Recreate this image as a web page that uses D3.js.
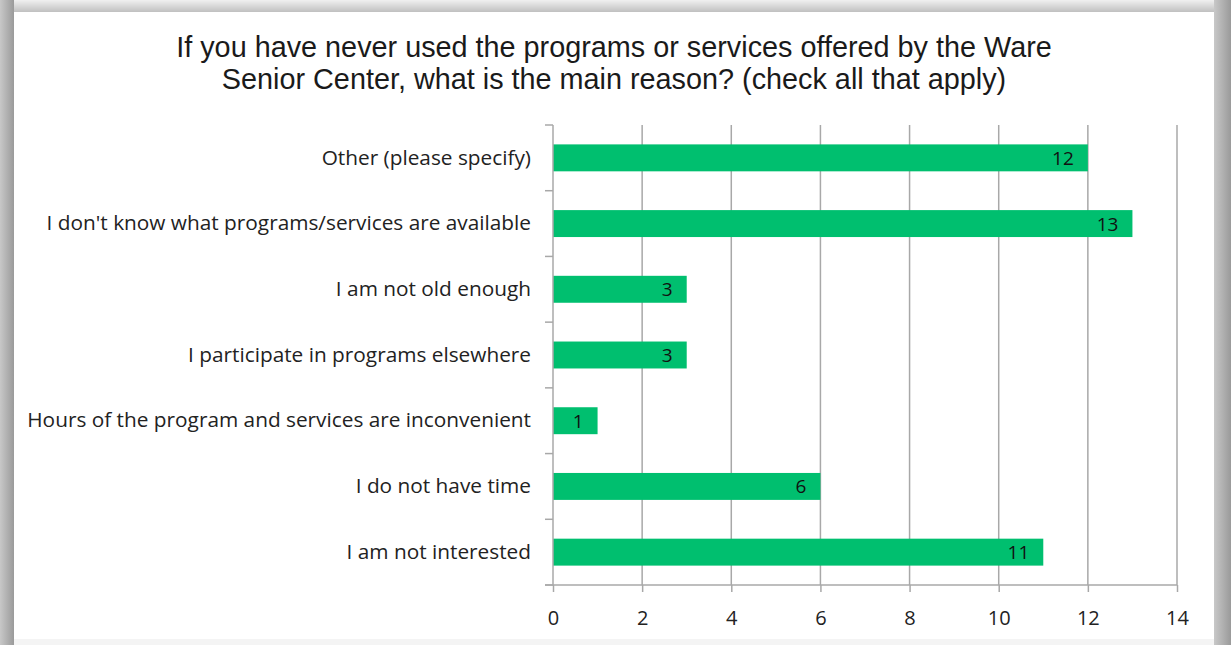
<!DOCTYPE html>
<html><head><meta charset="utf-8">
<script src="https://cdn.jsdelivr.net/npm/d3@7"></script>
<style>html,body{margin:0;padding:0;background:#fff;}svg{display:block;}</style>
</head><body>
<script>
const categories = ["Other (please specify)","I don't know what programs/services are available","I am not old enough","I participate in programs elsewhere","Hours of the program and services are inconvenient","I do not have time","I am not interested"];
const values = [12,13,3,3,1,6,11];
const xTicks = [0,2,4,6,8,10,12,14];
const titleLines = ["If you have never used the programs or services offered by the Ware","Senior Center, what is the main reason? (check all that apply)"];

const W=1231,H=645;
const svg=d3.select("body").append("svg").attr("width",W).attr("height",H);
const defs=svg.append("defs");
const g1=defs.append("linearGradient").attr("id","lg").attr("x1",0).attr("x2",1);
g1.append("stop").attr("offset","0").attr("stop-color","#c8c8c8");
g1.append("stop").attr("offset","1").attr("stop-color","#9a9a9a");
const g2=defs.append("linearGradient").attr("id","tg").attr("x1",0).attr("x2",0).attr("y1",0).attr("y2",1);
g2.append("stop").attr("offset","0").attr("stop-color","#f0f0f0");
g2.append("stop").attr("offset","1").attr("stop-color","#b8b8b8");
svg.append("rect").attr("width",W).attr("height",H).attr("fill","#fff");
svg.append("rect").attr("x",0).attr("y",0).attr("width",W).attr("height",14).attr("fill","url(#tg)");
svg.append("rect").attr("x",0).attr("y",0).attr("width",14).attr("height",H).attr("fill","url(#lg)");
svg.append("rect").attr("x",1214).attr("y",0).attr("width",17).attr("height",H).attr("fill","url(#lg)");
svg.append("rect").attr("x",14).attr("y",12).attr("width",1200).attr("height",627).attr("fill","#fff");
svg.append("rect").attr("x",14).attr("y",639).attr("width",1200).attr("height",6).attr("fill","#f4f4f4");

svg.append("g").selectAll("text").data(titleLines).join("text")
  .attr("x",614).attr("y",(d,i)=>57+i*32).attr("text-anchor","middle")
  .attr("font-family","Liberation Sans, Arial, sans-serif").attr("font-size",28.8).attr("fill","#1a1a1a").text(d=>d);

const x=d3.scaleLinear().domain([0,14]).range([553,1177]);
const y=d3.scaleBand().domain(categories).range([125,585]).paddingInner(0.59).paddingOuter(0.295);
const step=y.step();
const LF="Open Sans, sans-serif";

// gridlines
svg.append("g").selectAll("line").data(xTicks.slice(1)).join("line")
  .attr("x1",d=>x(d)).attr("x2",d=>x(d)).attr("y1",125).attr("y2",585)
  .attr("stroke","#a8a8a8").attr("stroke-width",1.5);

// bars
svg.append("g").selectAll("rect").data(values).join("rect")
  .attr("x",x(0)).attr("y",(d,i)=>y(categories[i])).attr("width",d=>x(d)-x(0)).attr("height",y.bandwidth())
  .attr("fill","#00bf6f");

// labels
svg.append("g").selectAll("text").data(values).join("text")
  .attr("x",d=>x(d)-14).attr("y",(d,i)=>y(categories[i])+y.bandwidth()/2+7)
  .attr("text-anchor","end").attr("font-family",LF).attr("font-size",19).attr("fill","#111").text(d=>d);

// x axis
const xa=svg.append("g").attr("transform","translate(0,585)")
  .call(d3.axisBottom(x).tickValues(xTicks).tickSize(7).tickPadding(19));
xa.select(".domain").attr("stroke","#a8a8a8").attr("stroke-width",1.5).attr("d","M545,0H1177");
xa.selectAll(".tick line").attr("stroke","#a8a8a8").attr("stroke-width",1.5);
xa.selectAll(".tick text").attr("font-family",LF).attr("font-size",20).attr("fill","#222");

// y axis
const ya=svg.append("g").attr("transform","translate(553,0)")
  .call(d3.axisLeft(y).tickSize(0).tickPadding(22));
ya.select(".domain").attr("stroke","#a8a8a8").attr("stroke-width",1.5).attr("d","M0,125V585");
ya.selectAll(".tick text").attr("font-family",LF).attr("font-size",20.8).attr("fill","#222");
// category boundary ticks
const bounds=d3.range(categories.length+1).map(i=>125+i*step);
svg.append("g").selectAll("line").data(bounds).join("line")
  .attr("x1",545).attr("x2",553).attr("y1",d=>d).attr("y2",d=>d).attr("stroke","#a8a8a8").attr("stroke-width",1.5);
</script>
</body></html>
